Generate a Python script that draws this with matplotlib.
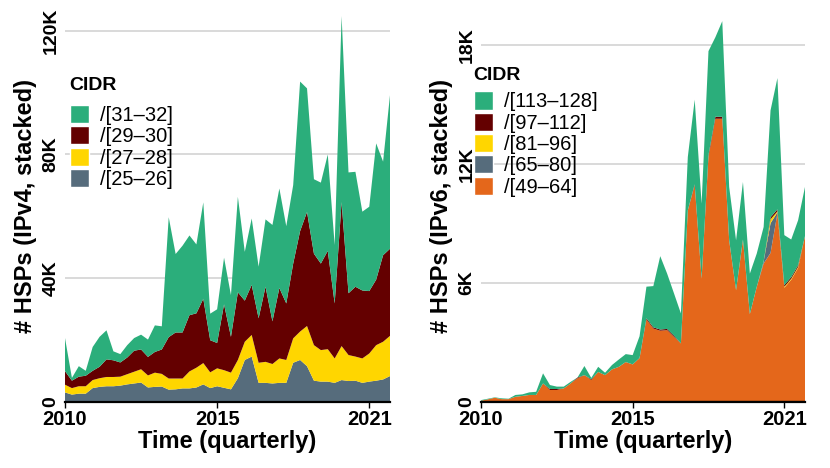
import numpy as np
import matplotlib
matplotlib.use("Agg")
import matplotlib.pyplot as plt
from matplotlib.patches import Patch

# quarterly index, 2010Q1 .. 2021Q4
quarters = np.arange(48)
tick_pos = [0, 22, 44]
tick_lab = ["2010", "2015", "2021"]

# ---- IPv4 (thousands) ----
v4_labels = ["/[25\u201326]", "/[27\u201328]", "/[29\u201330]", "/[31\u201332]"]
v4_25_26 = [3.0, 2.3, 2.6, 2.6, 4.4, 4.8, 5.0, 5.0, 5.2, 5.6, 5.9, 6.2, 4.6, 4.8, 4.9, 3.9,
            4.0, 4.3, 4.3, 4.6, 5.6, 4.4, 5.0, 4.5, 4.0, 7.6, 13.5, 14.6, 6.1, 6.1, 5.9, 6.1,
            6.1, 12.6, 13.5, 11.5, 6.8, 6.5, 6.5, 6.1, 7.0, 6.7, 6.8, 6.1, 6.5, 6.8, 7.2, 8.3]
v4_27_28 = [2.5, 2.1, 2.4, 2.4, 2.6, 2.8, 3.0, 3.0, 2.9, 3.3, 3.8, 4.3, 3.9, 4.6, 4.1, 3.6,
            3.5, 3.2, 5.5, 6.4, 6.9, 5.1, 5.8, 5.7, 5.4, 5.9, 5.9, 7.0, 6.5, 6.8, 6.3, 7.9,
            7.4, 7.9, 9.2, 13.0, 11.5, 10.2, 10.5, 7.9, 11.0, 8.4, 7.8, 7.9, 9.1, 11.5, 12.2, 13.0]
v4_29_30 = [4.4, 2.4, 3.1, 3.4, 3.0, 3.7, 5.7, 5.4, 4.6, 5.4, 6.8, 6.4, 6.0, 6.7, 7.9, 13.4,
            14.9, 14.9, 18.2, 17.6, 20.8, 10.4, 8.2, 21.3, 11.6, 21.9, 13.3, 16.2, 14.4, 24.3, 13.8, 22.8,
            18.3, 24.2, 32.5, 36.9, 29.6, 28.0, 31.8, 17.8, 46.6, 20.0, 22.6, 22.0, 20.2, 21.2, 28.0, 28.2]
v4_31_32 = [10.7, 0.9, 3.4, 1.6, 7.7, 9.7, 9.4, 2.9, 2.7, 4.0, 4.1, 4.8, 5.6, 8.6, 7.5, 38.8,
            25.4, 28.1, 25.8, 22.3, 31.2, 8.6, 10.9, 15.1, 13.5, 30.9, 15.8, 21.5, 16.7, 21.8, 31.2, 32.2,
            25.0, 25.4, 48.4, 40.0, 24.1, 26.2, 31.2, 18.9, 60.2, 39.1, 37.2, 25.5, 27.3, 44.1, 30.3, 49.7]

# ---- IPv6 (thousands) ----
v6_labels = ["/[49\u201364]", "/[65\u201380]", "/[81\u201396]", "/[97\u2013112]", "/[113\u2013128]"]
v6_total = [0.08, 0.15, 0.22, 0.17, 0.15, 0.34, 0.37, 0.47, 0.50, 1.43, 0.84, 0.76, 0.76, 1.0, 1.2, 1.8,
            1.2, 1.76, 1.46, 1.85, 2.13, 2.4, 2.35, 3.3, 5.8, 5.83, 7.34, 6.46, 5.46, 4.45, 12.34, 15.23,
            9.99, 17.68, 18.38, 19.19, 10.83, 8.14, 11.08, 6.46, 7.47, 8.81, 14.69, 16.32, 8.4, 8.18, 9.15, 10.83]
v6_49_64 = [0.05, 0.12, 0.2, 0.13, 0.13, 0.25, 0.29, 0.34, 0.34, 0.92, 0.59, 0.59, 0.67, 0.92, 1.18, 1.34,
            1.09, 1.5, 1.34, 1.63, 1.76, 2.0, 1.88, 2.2, 4.15, 3.69, 3.58, 3.61, 3.27, 2.94, 9.65, 10.91,
            6.21, 12.34, 14.27, 14.27, 8.14, 5.62, 8.18, 4.42, 5.79, 6.97, 7.5, 9.5, 5.75, 6.15, 6.75, 8.35]
v6_65_80 = [0]*41 + [0.1, 1.5, 0.05, 0, 0, 0, 0]
v6_81_96 = [0]*42 + [0.2, 0.05, 0.05, 0.05, 0.05, 0]
v6_97_112 = [0, 0, 0, 0, 0, 0, 0, 0, 0, 0, 0.05, 0.05, 0, 0, 0.04, 0,
             0.04, 0, 0, 0, 0, 0, 0, 0, 0.06, 0.06, 0.06, 0.06, 0.06, 0, 0, 0.05,
             0, 0.1, 0.1, 0.1, 0, 0, 0, 0, 0, 0, 0.1, 0.1, 0.08, 0.08, 0.08, 0]
v6_113_128 = (np.array(v6_total) - np.array(v6_49_64) - np.array(v6_65_80)
              - np.array(v6_81_96) - np.array(v6_97_112)).clip(min=0)

GREEN = "#2BAE7B"
DRED = "#640000"
GOLD = "#FFD600"
SLATE = "#566C7C"
ORANGE = "#E4671B"

plt.rcParams['font.family'] = ['Liberation Sans', 'DejaVu Sans']

fig = plt.figure(figsize=(8.3, 4.68), dpi=100)
W, H = 830.0, 468.0


def style(ax, ymax, yticks, ylabs, ylabel):
    ax.set_xlim(0, 47)
    ax.set_ylim(0, ymax)
    for s in ["left", "right", "top"]:
        ax.spines[s].set_visible(False)
    ax.spines["bottom"].set_linewidth(1.6)
    ax.spines["bottom"].set_zorder(5)
    ax.set_xticks(tick_pos)
    ax.set_xticklabels(tick_lab, fontsize=14.5, fontweight="bold")
    ax.set_yticks(yticks)
    ax.set_yticklabels(ylabs, fontsize=14, fontweight="bold", rotation=90, va="center")
    ax.tick_params(axis="y", length=0, pad=4)
    ax.tick_params(axis="x", length=4, width=1, pad=2)
    ax.yaxis.grid(True, color="#d9d9d9", linewidth=1.4)
    ax.set_axisbelow(True)
    ax.set_xlabel("Time (quarterly)", fontsize=17, fontweight="bold", labelpad=1)
    ax.set_ylabel(ylabel, fontsize=17, fontweight="bold", labelpad=4)


def legend(ax, colors, labels, x, ytitle, ykeys):
    fig.text(x/W, 1-ytitle/H, "CIDR", fontsize=14, fontweight="bold",
             ha="left", va="center")
    hs = [Patch(facecolor=c, edgecolor="white", linewidth=1.0) for c in colors]
    ax.legend(hs, labels, loc="upper left", bbox_to_anchor=(x/W, 1-ykeys/H),
              bbox_transform=fig.transFigure, frameon=False, fontsize=14.5,
              handlelength=0.98, handleheight=1.0, handletextpad=0.55,
              labelspacing=0.07, borderaxespad=0, borderpad=0)


# left panel
ax1 = fig.add_axes([65/W, 1-401.7/H, 325/W, 391.7/H])
ax1.stackplot(quarters, v4_25_26, v4_27_28, v4_29_30, v4_31_32,
              colors=[SLATE, GOLD, DRED, GREEN], linewidth=0)
style(ax1, 391.7/3.09, [0, 40, 80, 120], ["0", "40K", "80K", "120K"],
      "# HSPs (IPv4, stacked)")
legend(ax1, [GREEN, DRED, GOLD, SLATE], v4_labels[::-1], 69.5, 85, 105)

# right panel
ax2 = fig.add_axes([481/W, 1-401.7/H, 324/W, 391.7/H])
ax2.stackplot(quarters, v6_49_64, v6_65_80, v6_81_96, v6_97_112, v6_113_128,
              colors=[ORANGE, SLATE, GOLD, DRED, GREEN], linewidth=0)
ax2.axhline(0, color="black", linewidth=1.6, zorder=6)
style(ax2, 391.7/19.83, [0, 6, 12, 18], ["0", "6K", "12K", "18K"],
      "# HSPs (IPv6, stacked)")
legend(ax2, [GREEN, DRED, GOLD, SLATE, ORANGE], v6_labels[::-1], 473.5, 75, 91.5)

fig.savefig("out.png", dpi=100)
